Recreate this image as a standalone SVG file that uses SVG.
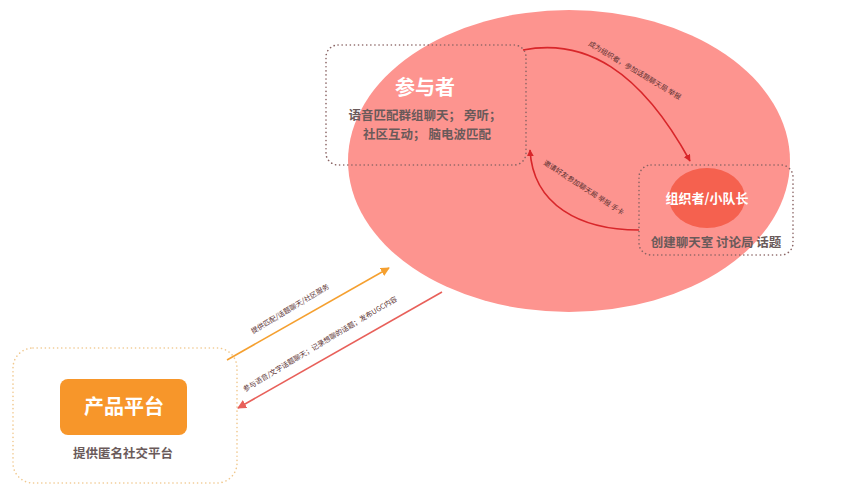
<svg xmlns="http://www.w3.org/2000/svg" width="849" height="500" viewBox="0 0 849 500">
<style>
.cjk{font-family:"Noto Sans CJK SC","Noto Sans",sans-serif}
.title{font-size:20px;font-weight:bold;fill:#ffffff;text-anchor:middle}
.desc{font-size:12.5px;font-weight:bold;fill:#6a5a5a;text-anchor:middle}
.small{font-size:7px;fill:#5a3030}
.dotbox{fill:none;stroke:#8a6464;stroke-width:1.6;stroke-dasharray:0.1 4;stroke-linecap:round}
.dotorange{fill:none;stroke:#f0c88e;stroke-width:1.6;stroke-dasharray:0.1 4;stroke-linecap:round}
.darkred{fill:none;stroke:#d8262a;stroke-width:1.6}
</style>
<defs>
<marker id="mDark" viewBox="0 0 10 10" refX="9" refY="5" markerWidth="7" markerHeight="7" orient="auto" markerUnits="userSpaceOnUse">
<path d="M0,0 L10,5 L0,10 z" fill="#d8262a"/>
</marker>
<marker id="mOrange" viewBox="0 0 10 10" refX="9" refY="5" markerWidth="9" markerHeight="9" orient="auto" markerUnits="userSpaceOnUse">
<path d="M0,0 L10,5 L0,10 z" fill="#f5a030"/>
</marker>
<marker id="mSalmon" viewBox="0 0 10 10" refX="9" refY="5" markerWidth="9" markerHeight="9" orient="auto" markerUnits="userSpaceOnUse">
<path d="M0,0 L10,5 L0,10 z" fill="#e8605a"/>
</marker>
</defs>
<rect width="849" height="500" fill="#ffffff"/>
<g id="community">
<ellipse cx="569" cy="161" rx="221" ry="151" fill="#fd948f"/>
</g>
<g id="participant">
<rect class="dotbox" x="326" y="45" width="200" height="120" rx="12"/>
<text class="cjk title" x="425" y="95">参与者</text>
<text class="cjk desc" x="425" y="120">语音匹配群组聊天； 旁听；</text>
<text class="cjk desc" x="427" y="139">社区互动； 脑电波匹配</text>
</g>
<g id="organizer">
<rect class="dotbox" x="639" y="165" width="154" height="90" rx="12"/>
<ellipse cx="707" cy="198" rx="38" ry="30" fill="#f5614f"/>
<text class="cjk" x="707" y="203" font-size="13" font-weight="bold" fill="#ffffff" text-anchor="middle">组织者/小队长</text>
<text class="cjk desc" x="716" y="247">创建聊天室 讨论局 话题</text>
</g>
<g id="platform">
<rect class="dotorange" x="13" y="348" width="224" height="135" rx="20"/>
<rect x="60" y="379" width="127" height="56" rx="8" fill="#f7962a"/>
<text class="cjk title" x="124" y="414">产品平台</text>
<text class="cjk desc" x="123" y="458">提供匿名社交平台</text>
</g>
<g id="connectors">
<path class="darkred" d="M523,50 C585,38 640,70 690,161" marker-end="url(#mDark)"/>
<text class="cjk small" transform="translate(588,45) rotate(31)">成为组织者，参加话题聊天局  举报</text>
<path class="darkred" d="M639,230 C580,230 533,205 530,150" marker-end="url(#mDark)"/>
<text class="cjk small" transform="translate(543,164) rotate(33)">邀请好友参加聊天局  举报  手卡</text>
<path d="M227,360 L389,268" fill="none" stroke="#f5a030" stroke-width="1.6" marker-end="url(#mOrange)"/>
<text class="cjk small" transform="translate(253,334) rotate(-31)">提供匹配/话题聊天/社区服务</text>
<path d="M442,292 L238,408" fill="none" stroke="#e8605a" stroke-width="1.6" marker-end="url(#mSalmon)"/>
<text class="cjk small" transform="translate(245,392) rotate(-31)">参与语音/文字话题聊天；记录想聊的话题；发布UGC内容</text>
</g>
</svg>
